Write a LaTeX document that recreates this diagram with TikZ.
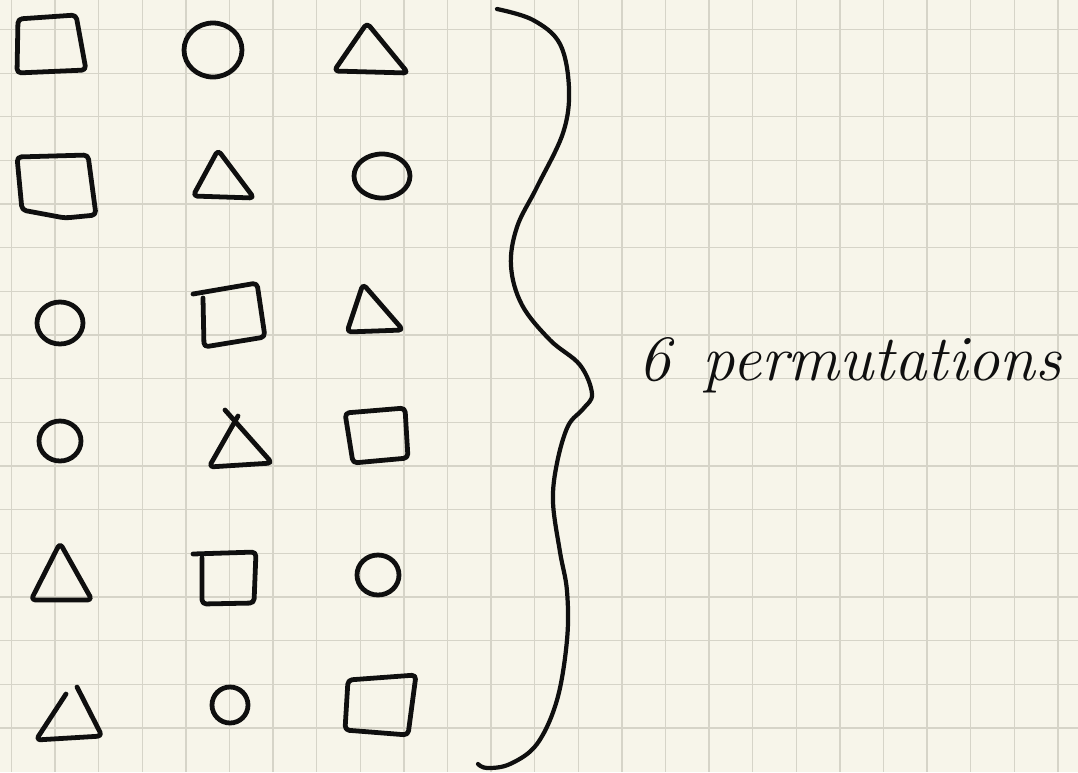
\documentclass[tikz,border=0pt]{standalone}
\usepackage{xcolor}
\usepackage{tikz}
\usetikzlibrary{calc}

\definecolor{paperbg}{RGB}{247,245,234}
\definecolor{gridgrey}{RGB}{214,212,200}
\definecolor{inkblack}{RGB}{15,15,15}

\begin{document}
\begin{tikzpicture}[
    x=0.025cm, y=-0.025cm,
    % Define specific styles
    grid_line/.style={draw=gridgrey, line width=0.9pt},
    shape_ink/.style={draw=inkblack, line width=3.4pt, line join=round, line cap=round, rounded corners=3},
    brace_ink/.style={draw=inkblack, line width=3pt, line cap=round},
    label_node/.style={inner sep=0pt, anchor=base west, text=inkblack, font=\fontsize{46}{50}\selectfont\itshape},
]

% Paper and grid
\fill[paperbg] (0,0) rectangle (1078,772);
\useasboundingbox (0,0) rectangle (1078,772);
\foreach \gx in {0,...,24}
    \draw[grid_line] ({11.5+43.6*\gx},0) -- ({11.5+43.6*\gx},772);
\foreach \gy in {0,...,16}
    \draw[grid_line] (0,{29.5+43.65*\gy}) -- (1078,{29.5+43.65*\gy});

% Row 1: square, circle, triangle
\draw[shape_ink] (18,19) -- (76,15) -- (86,70) -- (17,73) -- cycle;
\draw[shape_ink] (213,50) ellipse [x radius=29, y radius=27];
\draw[shape_ink] (367,23) -- (408,73) -- (334,71) -- cycle;

% Row 2: square, triangle, circle
\draw[shape_ink] (17,157) -- (88,155) -- (96,215) -- (65,218) -- (22,210) -- cycle;
\draw[shape_ink] (218,150) -- (254,198) -- (193,196) -- cycle;
\draw[shape_ink] (382,176) ellipse [x radius=28, y radius=22];

% Row 3: circle, square, triangle
\draw[shape_ink] (60,323) ellipse [x radius=23, y radius=21];
\draw[shape_ink] (193,294) -- (257,283) -- (265,337) -- (204,347) -- (203,298);
\draw[shape_ink] (363,284) -- (403,330) -- (347,332) -- cycle;

% Row 4: circle, triangle, square
\draw[shape_ink] (60,441) ellipse [x radius=21, y radius=20];
\draw[shape_ink] (225,410) -- (272,463) -- (209,467) -- (238,416);
\draw[shape_ink] (345,413) -- (405,408) -- (408,458) -- (353,463) -- cycle;

% Row 5: triangle, square, circle
\draw[shape_ink] (60,543) -- (92,600) -- (31,600) -- cycle;
\draw[shape_ink] (193,554) -- (256,552) -- (254,603) -- (202,604) -- (202,558);
\draw[shape_ink] (378,575) ellipse [x radius=21, y radius=20];

% Row 6: triangle, circle, square
\draw[shape_ink] (77,687) -- (102,736) -- (36,740) -- (66,694);
\draw[shape_ink] (230,705) ellipse [x radius=18, y radius=18];
\draw[shape_ink] (348,680) -- (416,675) -- (408,735) -- (345,730) -- cycle;

% Brace
\draw[brace_ink] plot[smooth, tension=0.6] coordinates {
    (497,9) (533,20) (560,44) (569,89) (563,133) (537,187) (517,227)
    (511,266) (522,305) (550,340) (580,365) (592,394) (583,409) (568,426)
    (557,463) (553,502) (560,552) (567,591) (567,640) (557,700) (537,744)
    (510,764) (487,768) (478,764)};

% Label
\node[label_node] (perm) at (638,380) {6\hspace{0.5em}permutations};

\end{tikzpicture}
\end{document}
